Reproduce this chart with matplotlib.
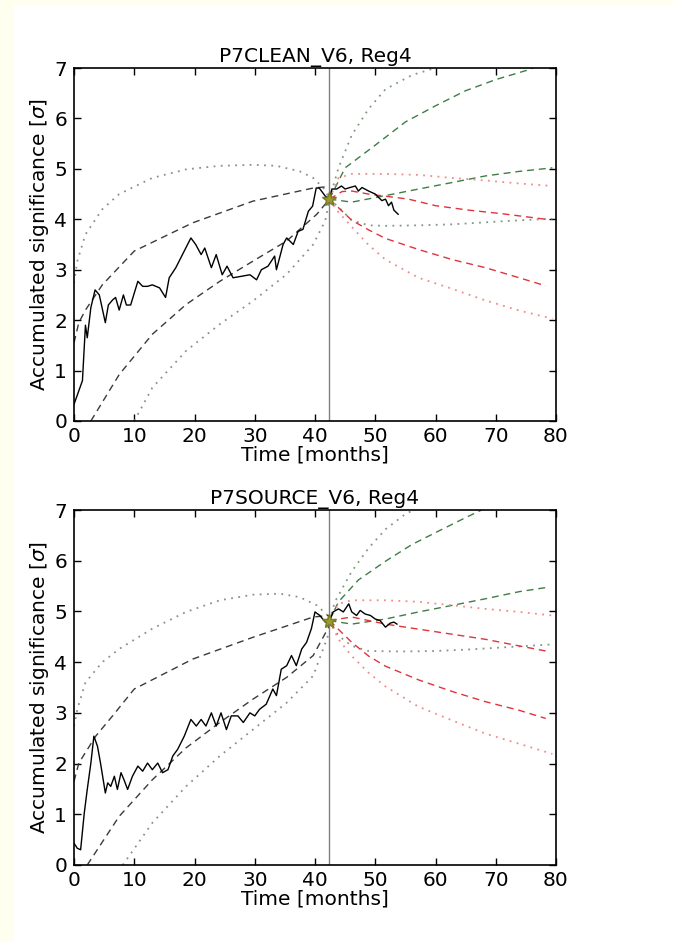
import matplotlib
matplotlib.use("Agg")
import matplotlib.pyplot as plt
from matplotlib.patches import Rectangle

# time of the last update (months) and accumulated significance at that time
T_NOW = 42.4
CLEAN_NOW = 4.40
SOURCE_NOW = 4.82

# ---- P7CLEAN_V6 -------------------------------------------------------------
clean_obs = [
    (0, 0.33), (1.4, 0.8), (1.9, 1.9), (2.2, 1.65), (2.8, 2.25), (3.5, 2.6),
    (4.2, 2.5), (5.2, 1.95), (5.7, 2.3), (6.4, 2.4), (6.9, 2.45), (7.5, 2.2),
    (8.2, 2.5), (8.7, 2.3), (9.4, 2.3), (10.6, 2.77), (11.4, 2.67), (12.2, 2.67),
    (13.0, 2.7), (14.2, 2.64), (15.2, 2.45), (15.8, 2.84), (16.9, 3.04),
    (18.0, 3.3), (19.4, 3.63), (20.2, 3.5), (21.1, 3.3), (21.7, 3.43),
    (22.8, 3.04), (23.6, 3.3), (24.6, 2.9), (25.4, 3.07), (26.4, 2.84),
    (27.8, 2.87), (29.2, 2.9), (30.3, 2.8), (31.1, 3.0), (32.2, 3.07),
    (33.3, 3.27), (33.6, 3.0), (34.7, 3.5), (35.3, 3.63), (36.4, 3.5),
    (37.2, 3.76), (38.0, 3.8), (38.9, 4.16), (39.6, 4.26), (40.2, 4.62),
    (40.7, 4.62), (41.7, 4.46), (42.4, 4.40), (42.8, 4.6), (43.6, 4.6),
    (44.4, 4.66), (45.0, 4.6), (45.8, 4.63), (46.7, 4.66), (47.2, 4.56),
    (47.8, 4.63), (48.9, 4.56), (50.0, 4.5), (51.1, 4.37), (51.7, 4.4),
    (52.2, 4.27), (52.7, 4.34), (53.1, 4.18), (53.8, 4.1),
]
clean_past_hi = [(0, 1.55), (0.8, 1.95), (1.9, 2.2), (4.7, 2.7), (10, 3.37),
                 (19.7, 3.93), (29.7, 4.36), (39.7, 4.62), (42.4, 4.65)]
clean_past_lo = [(2.8, 0.0), (7.5, 0.92), (13, 1.72), (18.6, 2.31), (24.2, 2.77),
                 (29.7, 3.17), (35.3, 3.57), (40.3, 4.1), (42.4, 4.40)]
clean_past_env_hi = [(0, 2.74), (0.55, 3.17), (1.9, 3.7), (4.7, 4.2), (7.5, 4.5),
                     (13, 4.82), (18.6, 4.99), (24.2, 5.06), (29.7, 5.08),
                     (33.6, 5.06), (37.5, 4.95), (39.7, 4.82), (41.4, 4.62),
                     (42.4, 4.42)]
clean_past_env_lo = [(10, 0.0), (13, 0.66), (18.6, 1.39), (24.2, 1.92),
                     (29.7, 2.38), (35.3, 2.91), (39.7, 3.5), (41.7, 3.97),
                     (42.4, 4.40)]
# continuing signal
clean_on_hi = [(42.4, 4.4), (45, 5.02), (50, 5.47), (55, 5.93), (60, 6.25),
               (65, 6.55), (70, 6.77), (75.6, 6.97), (76.5, 7.02)]
clean_on_lo = [(42.4, 4.4), (46.1, 4.34), (51.7, 4.47), (57.2, 4.6), (62.8, 4.73),
               (68.3, 4.86), (73.9, 4.95), (79.4, 5.02)]
clean_on_env_hi = [(42.4, 4.4), (43.9, 5.02), (46.1, 5.67), (48.9, 6.19),
                   (51.7, 6.58), (56.1, 6.86), (60.5, 7.02)]
clean_on_env_lo = [(42.4, 4.4), (43.9, 4.24), (46.1, 3.98), (48.9, 3.88),
                   (51.7, 3.87), (57.2, 3.88), (62.8, 3.9), (68.3, 3.94),
                   (73.9, 3.98), (79.4, 4.01)]
# signal switched off
clean_off_hi = [(42.4, 4.4), (44.5, 4.55), (46.1, 4.56), (48.9, 4.5), (55.5, 4.4),
                (60, 4.27), (65.6, 4.18), (71.1, 4.11), (78.3, 4.0)]
clean_off_lo = [(42.4, 4.4), (46.1, 3.98), (48.9, 3.79), (51.7, 3.62), (57.2, 3.4),
                (62.8, 3.2), (68.3, 3.04), (73.9, 2.84), (78.3, 2.68)]
clean_off_env_hi = [(42.4, 4.4), (43.9, 4.82), (46.1, 4.9), (51.7, 4.9),
                    (57.2, 4.88), (62.8, 4.82), (68.3, 4.77), (73.9, 4.71),
                    (79.4, 4.66)]
clean_off_env_lo = [(42.4, 4.4), (43.9, 4.14), (46.1, 3.85), (48.9, 3.49),
                    (51.7, 3.2), (57.2, 2.84), (62.8, 2.62), (68.3, 2.39),
                    (73.9, 2.19), (79.4, 2.03)]

# ---- P7SOURCE_V6 ------------------------------------------------------------
source_obs = [
    (0, 0.43), (0.55, 0.33), (1.1, 0.3), (1.7, 1.02), (2.2, 1.49), (2.8, 2.01),
    (3.3, 2.54), (3.9, 2.34), (4.4, 2.01), (5.2, 1.42), (5.6, 1.62), (6.1, 1.55),
    (6.7, 1.75), (7.2, 1.49), (7.8, 1.82), (8.3, 1.68), (8.9, 1.49), (9.7, 1.75),
    (10.6, 1.95), (11.4, 1.85), (12.2, 2.01), (13.0, 1.88), (13.9, 2.01),
    (14.7, 1.82), (15.6, 1.88), (16.4, 2.15), (17.2, 2.28), (18.3, 2.54),
    (19.4, 2.87), (20.3, 2.74), (21.1, 2.87), (21.9, 2.74), (22.8, 3.0),
    (23.6, 2.74), (24.4, 3.0), (25.3, 2.67), (26.1, 2.94), (27.2, 2.94),
    (28.1, 2.81), (29.2, 3.0), (30.0, 2.94), (30.8, 3.07), (31.9, 3.17),
    (33.0, 3.47), (33.6, 3.34), (34.4, 3.86), (35.3, 3.93), (36.1, 4.13),
    (36.9, 3.93), (37.8, 4.26), (38.6, 4.39), (39.4, 4.66), (40.0, 4.99),
    (40.8, 4.92), (41.7, 4.79), (42.4, 4.82), (43.0, 4.99), (43.9, 5.05),
    (44.7, 4.99), (45.6, 5.15), (46.1, 4.99), (46.9, 4.92), (47.5, 5.02),
    (48.3, 4.95), (49.2, 4.92), (50.0, 4.85), (50.8, 4.82), (51.7, 4.69),
    (52.5, 4.77), (53.1, 4.79), (53.6, 4.75),
]
source_past_hi = [(0, 1.65), (0.8, 2.01), (3.6, 2.54), (6.4, 2.94), (10, 3.47),
                  (19.7, 4.06), (29.7, 4.49), (39.7, 4.89), (42.4, 4.92)]
source_past_lo = [(2.2, 0.0), (7.5, 0.96), (13, 1.68), (18.6, 2.31), (24.2, 2.81),
                  (29.7, 3.27), (35.3, 3.7), (39.7, 4.13), (42.4, 4.72)]
source_past_env_hi = [(0, 2.74), (0.55, 3.07), (1.9, 3.6), (4.7, 4.0), (7.5, 4.26),
                      (13, 4.66), (18.6, 4.99), (24.2, 5.22), (29.7, 5.33),
                      (34.2, 5.35), (37.5, 5.28), (40.3, 5.12), (42.4, 4.89)]
source_past_env_lo = [(8.1, 0.0), (13, 0.83), (18.6, 1.55), (24.2, 2.15),
                      (29.7, 2.67), (35.3, 3.2), (39.7, 3.73), (42.4, 4.6)]
source_on_hi = [(42.4, 4.82), (43.9, 5.19), (47.2, 5.62), (51.7, 5.99),
                (56.1, 6.32), (60.6, 6.59), (65, 6.85), (68, 7.02)]
source_on_lo = [(42.4, 4.82), (46.1, 4.75), (51.7, 4.85), (57.2, 4.99),
                (62.8, 5.12), (68.3, 5.25), (73.9, 5.39), (78.3, 5.47)]
source_on_env_hi = [(42.4, 4.82), (43.3, 5.19), (46.1, 5.79), (48.9, 6.25),
                    (51.7, 6.62), (55, 6.92), (56.7, 7.02)]
source_on_env_lo = [(42.4, 4.82), (43.9, 4.52), (46.1, 4.32), (48.9, 4.22),
                    (54.4, 4.21), (60, 4.22), (65.6, 4.25), (71.1, 4.29),
                    (79.4, 4.35)]
source_off_hi = [(42.4, 4.82), (46.1, 4.89), (51.7, 4.75), (57.2, 4.65),
                 (62.8, 4.55), (68.3, 4.45), (73.9, 4.32), (78.3, 4.22)]
source_off_lo = [(42.4, 4.82), (46.1, 4.39), (48.9, 4.12), (51.7, 3.92),
                 (57.2, 3.65), (62.8, 3.42), (68.3, 3.22), (73.9, 3.05),
                 (78.3, 2.89)]
source_off_env_hi = [(42.4, 4.82), (43.9, 5.15), (46.1, 5.22), (51.7, 5.22),
                     (57.2, 5.19), (62.8, 5.12), (68.3, 5.05), (73.9, 4.99),
                     (79.4, 4.92)]
source_off_env_lo = [(42.4, 4.82), (43.9, 4.45), (46.1, 4.12), (48.9, 3.79),
                     (51.7, 3.52), (57.2, 3.12), (62.8, 2.85), (68.3, 2.59),
                     (73.9, 2.39), (79.4, 2.19)]

X_TICKS = [0, 10, 20, 30, 40, 50, 60, 70, 80]
Y_TICKS = [0, 1, 2, 3, 4, 5, 6, 7]

DASH = (0, (5, 3.5))
DOT = (0, (1, 3))

STYLES = {
    "past": dict(color="#3a3a3a", dash="#8e8e8e"),
    "on": dict(color="#3e7d46", dash="#809880"),
    "off": dict(color="#e0343c", dash="#f28a8a"),
}

plt.rcParams["font.family"] = "DejaVu Sans"
plt.rcParams["font.size"] = 14.5


def xy(points):
    return [p[0] for p in points], [p[1] for p in points]


def draw_curve(ax, points, color, ls, lw=1.0):
    t, s = xy(points)
    ax.plot(t, s, color=color, linestyle=ls, linewidth=lw)


def draw_panel(ax, title, obs, t_now, s_now, past, on, off):
    for group, curves in (("past", past), ("on", on), ("off", off)):
        hi, lo, env_hi, env_lo = curves
        st = STYLES[group]
        draw_curve(ax, env_hi, st["dash"], DOT, 1.3)
        draw_curve(ax, env_lo, st["dash"], DOT, 1.3)
        draw_curve(ax, hi, st["color"], DASH)
        draw_curve(ax, lo, st["color"], DASH)

    ax.axvline(t_now, color="#808080", linewidth=1.0)
    t, s = xy(obs)
    ax.plot(t, s, color="black", linewidth=1.0)
    ax.plot([t_now], [s_now], marker="*", markersize=10, color="#9c9a2a",
            markeredgecolor="#7a7a20", linestyle="none")

    ax.set_xlim(0, 80)
    ax.set_ylim(0, 7)
    ax.set_xticks(X_TICKS)
    ax.set_yticks(Y_TICKS)
    ax.tick_params(direction="in", top=True, right=True, length=5, width=1)
    ax.tick_params(axis="y", pad=5)
    ax.tick_params(axis="x", pad=4)
    for sp in ax.spines.values():
        sp.set_linewidth(1.2)
    ax.set_title(title, fontsize=14.5, pad=4)
    ax.set_xlabel("Time [months]", labelpad=0)
    ax.set_ylabel(r"Accumulated significance [$\sigma$]", labelpad=2)


W, H = 673, 942
fig = plt.figure(figsize=(W / 100, H / 100), dpi=100, facecolor="white")

# pale border strips along the left and top edges
cream = "#fffff0"
fig.patches.append(Rectangle((0, 0), 14 / W, 1, transform=fig.transFigure,
                             facecolor=cream, edgecolor="none", zorder=-1))
fig.patches.append(Rectangle((0, 1 - 5 / H), 1, 5 / H, transform=fig.transFigure,
                             facecolor=cream, edgecolor="none", zorder=-1))

ax1 = fig.add_axes([74 / W, 1 - 421 / H, 482 / W, 353 / H])
ax2 = fig.add_axes([74 / W, 1 - 865 / H, 482 / W, 355 / H])

draw_panel(ax1, "P7CLEAN_V6, Reg4", clean_obs, T_NOW, CLEAN_NOW,
           (clean_past_hi, clean_past_lo, clean_past_env_hi, clean_past_env_lo),
           (clean_on_hi, clean_on_lo, clean_on_env_hi, clean_on_env_lo),
           (clean_off_hi, clean_off_lo, clean_off_env_hi, clean_off_env_lo))
draw_panel(ax2, "P7SOURCE_V6, Reg4", source_obs, T_NOW, SOURCE_NOW,
           (source_past_hi, source_past_lo, source_past_env_hi, source_past_env_lo),
           (source_on_hi, source_on_lo, source_on_env_hi, source_on_env_lo),
           (source_off_hi, source_off_lo, source_off_env_hi, source_off_env_lo))

fig.savefig("out.png", dpi=100, facecolor=fig.get_facecolor())
